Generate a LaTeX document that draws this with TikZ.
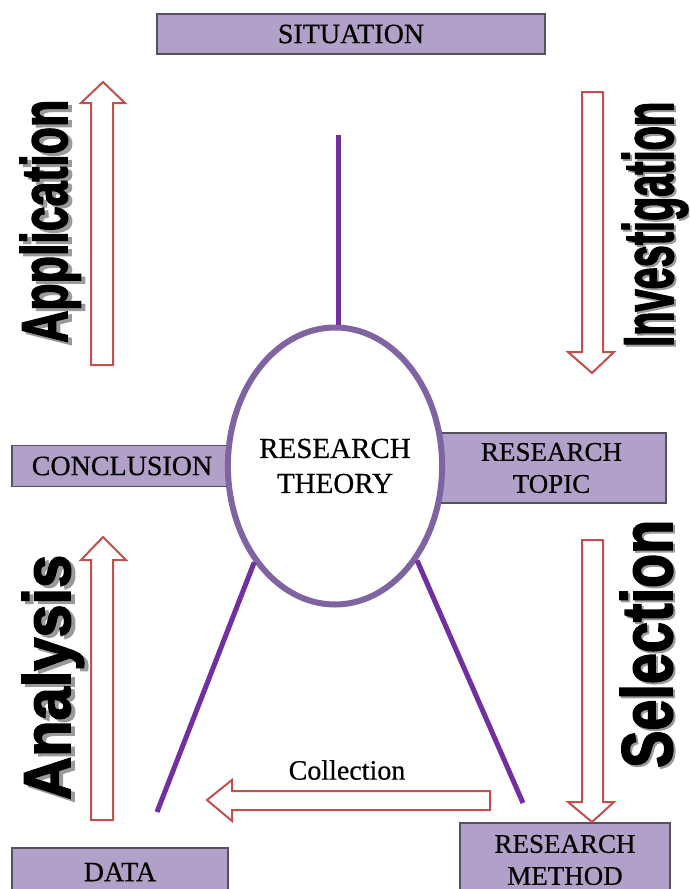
\documentclass[tikz,border=0pt]{standalone}
\usepackage{fontspec}
\usepackage{graphicx}
\setmainfont{Liberation Serif}
\newfontfamily\labelfont[FakeBold=0.5]{Liberation Serif}
\newfontfamily\heavyfont[FakeBold=2.5]{Liberation Sans Bold}
\usetikzlibrary{shapes.geometric}

\definecolor{boxfill}{HTML}{B1A0C7}
\definecolor{boxline}{HTML}{55505F}
\definecolor{ringline}{HTML}{8064A2}
\definecolor{spoke}{HTML}{7030A0}
\definecolor{arrowline}{HTML}{C0504D}
\definecolor{shade}{HTML}{9A9A9A}

% stretched heavy word: length, letter height, text
\newcommand\stretchword[3]{\resizebox{#1pt}{#2pt}{\heavyfont #3}}

\tikzset{
  box/.style={draw=boxline, line width=1.5pt, fill=boxfill, inner sep=0pt,
    align=center, font=\labelfont\fontsize{27}{32}\selectfont},
  flow/.style={draw=arrowline, line width=2pt, fill=white, line join=miter},
  spokeline/.style={draw=spoke, line width=5pt},
  ring/.style={ellipse, draw=ringline, line width=6pt, fill=white, inner sep=0pt,
    align=center, font=\labelfont\fontsize{29}{35}\selectfont},
  word/.style={inner sep=0pt, rotate=90, anchor=base west},
  wordshadow/.style={word, text=shade},
}

\begin{document}
\begin{tikzpicture}[x=1pt, y=-1pt]
\useasboundingbox (0,0) rectangle (689,889);
\clip (0,0) rectangle (689,889);
\fill[white] (0,0) rectangle (689,889);

% boxes around the centre
\node[box, minimum width=388pt, minimum height=40pt, font=\labelfont\fontsize{28}{32}\selectfont] (situation) at (351,34) {SITUATION};
\node[box, minimum width=220pt, minimum height=41pt, font=\labelfont\fontsize{28}{32}\selectfont] (conclusion) at (122,466) {CONCLUSION};
\node[box, minimum width=229pt, minimum height=70pt] (topic) at (551.5,468) {RESEARCH\\TOPIC};
\node[box, minimum width=216pt, minimum height=48pt, font=\labelfont\fontsize{28}{32}\selectfont] (data) at (120,872) {DATA};
\node[box, minimum width=210pt, minimum height=74pt] (method) at (565,860) {RESEARCH\\METHOD};

% central theory
\node[ring, minimum width=205pt, minimum height=277pt] (theory) at (335,466) {RESEARCH\\THEORY};

% spokes
\coordinate (topend) at (338,135);
\coordinate (leftend) at (157,812);
\coordinate (rightend) at (523,803);
\draw[spokeline] (topend) -- (topend |- theory.north);
\draw[spokeline] (theory.230.5) -- (leftend);
\draw[spokeline] (theory.311.4) -- (rightend);

% block arrows
\draw[flow] (91,365) -- (91,103) -- (81,103) -- (103,82) -- (125,103) -- (113,103) -- (113,365) -- cycle;
\draw[flow] (582,92) -- (582,352) -- (568,352) -- (592,373) -- (614,352) -- (603,352) -- (603,92) -- cycle;
\draw[flow] (91,820) -- (91,560) -- (81,560) -- (103,537) -- (126,560) -- (113,560) -- (113,820) -- cycle;
\draw[flow] (582,540) -- (582,802) -- (568,802) -- (592,822) -- (614,802) -- (603,802) -- (603,540) -- cycle;
\draw[flow] (490,791) -- (232,791) -- (232,780) -- (207,800) -- (232,821) -- (232,810) -- (490,810) -- cycle;

\node[inner sep=0pt, font=\labelfont\fontsize{28}{28}\selectfont] (collection) at (347,770) {Collection};

% stretched side words with their shadows
\node[wordshadow] at (71,346) {\stretchword{243}{47}{Application}};
\node[word] (application) at (67,343) {\stretchword{243}{47}{Application}};
\node[wordshadow] at (675,349) {\stretchword{245}{51}{Investigation}};
\node[word] (investigation) at (673,347) {\stretchword{245}{51}{Investigation}};
\node[wordshadow] at (74,803) {\stretchword{245}{48}{Analysis}};
\node[word] (analysis) at (70,800) {\stretchword{245}{48}{Analysis}};
\node[wordshadow] at (674,770) {\stretchword{248}{52}{Selection}};
\node[word] (selection) at (672,768) {\stretchword{248}{52}{Selection}};
\end{tikzpicture}
\end{document}
